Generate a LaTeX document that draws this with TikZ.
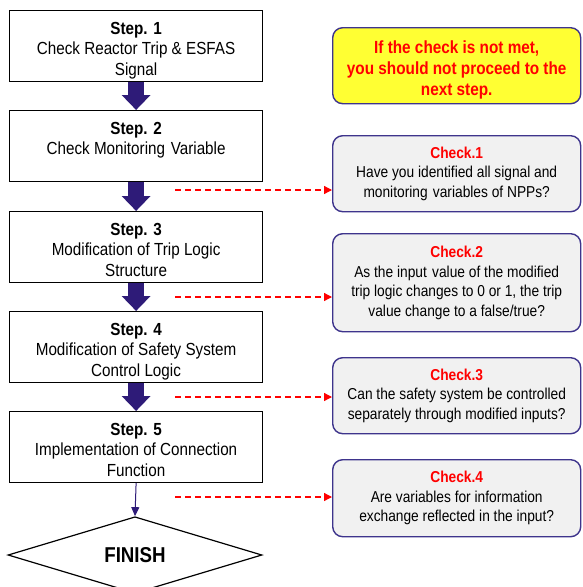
\documentclass[tikz,border=0pt]{standalone}
\usepackage{fontspec}
\setmainfont{Liberation Sans}[FakeStretch=0.87]
\usetikzlibrary{shapes.geometric,arrows.meta}
\definecolor{navy}{RGB}{46,27,120}
\definecolor{boxline}{RGB}{62,52,140}
\definecolor{chkfill}{RGB}{241,241,241}
\definecolor{warnfill}{RGB}{255,255,51}
\definecolor{warnred}{RGB}{255,0,0}
\begin{document}
\begin{tikzpicture}[x=1pt,y=-1pt,
  stepbox/.style={draw=black, line width=1.2pt, minimum width=253pt, minimum height=71pt, inner sep=0pt, anchor=north west},
  steptext/.style={anchor=north, inner sep=0pt, align=center, yshift=-12pt, font=\fontsize{17.5}{20.5}\selectfont},
  chkbox/.style={draw=boxline, line width=1.4pt, fill=chkfill, rounded corners=10pt, anchor=north west, minimum width=248pt, inner sep=0pt, align=center, font=\fontsize{15.8}{19.5}\selectfont},
  warnbox/.style={chkbox, fill=warnfill},
  warntext/.style={inner sep=0pt, align=center, text=warnred, font=\fontsize{17.6}{21}\selectfont\bfseries},
  bigarrow/.style={navy, line width=16pt, -{Triangle[width=28pt,length=15pt]}},
  thinarrow/.style={navy, line width=1pt, -{Triangle[width=8pt,length=9pt]}},
  chkarrow/.style={warnred, line width=1.3pt, dash pattern=on 6pt off 4pt, -{Triangle[width=8pt,length=8pt]}}
]
\useasboundingbox (0,0) rectangle (582,587);
\fill[white] (0,0) rectangle (582,587);

% step boxes
\node[stepbox] (s1) at (9,10) {};
\node[stepbox] (s2) at (9,110) {};
\node[stepbox] (s3) at (9,211) {};
\node[stepbox] (s4) at (9,311) {};
\node[stepbox] (s5) at (9,411) {};

\node[steptext] (t1) at (s1.north) {\textbf{Step. 1}\\Check Reactor Trip \& ESFAS\\Signal};
\node[steptext] (t2) at (s2.north) {\textbf{Step. 2}\\Check Monitoring\kern1.5pt{} Variable};
\node[steptext] (t3) at (s3.north) {\textbf{Step. 3}\\Modification of Trip Logic\\Structure};
\node[steptext] (t4) at (s4.north) {\textbf{Step. 4}\\Modification of Safety System\\Control Logic};
\node[steptext] (t5) at (s5.north) {\textbf{Step. 5}\\Implementation of Connection\\Function};

\node[draw=black, line width=1.2pt, shape=diamond, minimum width=254pt, minimum height=70pt, inner sep=0pt, font=\fontsize{21.5}{24}\selectfont\bfseries] (fin) at (135,555) {FINISH};

% arrows between steps
\draw[bigarrow] (s1.south) -- (s2.north);
\draw[bigarrow] (s2.south) -- (s3.north);
\draw[bigarrow] (s3.south) -- (s4.north);
\draw[bigarrow] (s4.south) -- (s5.north);
\draw[thinarrow] (s5.south) -- (fin.north);

% check boxes
\node[warnbox, minimum height=76pt] (c0) at (332,27) {};
\node[warntext] (w0) at ([yshift=-4pt]c0.center) {If the check is not met,\\you should not proceed to the\\next step.};
\node[chkbox, minimum height=76pt] (c1) at (332,135) {\textcolor{warnred}{\textbf{Check.1}}\\Have you identified all signal and\\monitoring\kern1.5pt{} variables of NPPs?};
\node[chkbox, minimum height=98pt] (c2) at (332,233) {\textcolor{warnred}{\textbf{Check.2}}\\As the input\kern1.5pt{} value of the modified\\trip logic changes to 0 or 1, the trip\\value change to a false/true?};
\node[chkbox, minimum height=76pt] (c3) at (332,357) {\textcolor{warnred}{\textbf{Check.3}}\\Can the safety system be controlled\\separately through modified inputs?};
\node[chkbox, minimum height=77pt] (c4) at (332,459) {\textcolor{warnred}{\textbf{Check.4}}\\Are variables for information\\exchange reflected in the input?};

% dashed arrows
\coordinate (d1) at (175,190);
\coordinate (d2) at (175,297);
\coordinate (d3) at (175,397);
\coordinate (d4) at (175,497);
\draw[chkarrow] (d1) -- (d1 -| c1.west);
\draw[chkarrow] (d2) -- (d2 -| c2.west);
\draw[chkarrow] (d3) -- (d3 -| c3.west);
\draw[chkarrow] (d4) -- (d4 -| c4.west);
\end{tikzpicture}
\end{document}
